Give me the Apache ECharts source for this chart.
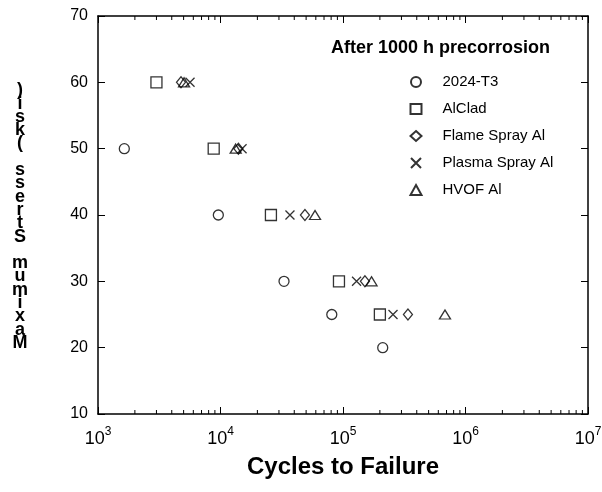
<!DOCTYPE html>
<html>
<head>
<meta charset="utf-8">
<script src="https://cdn.jsdelivr.net/npm/echarts@6/dist/echarts.min.js"></script>
<style>
  html, body { margin: 0; padding: 0; background: #fff; }
  #chart { width: 602px; height: 492px; }
</style>
</head>
<body>
<div id="chart"></div>
<script>
// S-N data after 1000 h precorrosion: [cycles to failure, maximum stress (ksi)]
const seriesNames = ['2024-T3', 'AlClad', 'Flame Spray Al', 'Plasma Spray Al', 'HVOF Al'];
const data2024T3 = [[1640, 50], [9600, 40], [33000, 30], [81000, 25], [211000, 20]];
const dataAlClad = [[3000, 60], [8800, 50], [25800, 40], [92700, 30], [200000, 25]];
const dataFlameSpray = [[4760, 60], [14000, 50], [48900, 40], [151000, 30], [339000, 25]];
const dataPlasmaSpray = [[5640, 60], [15000, 50], [36900, 40], [129000, 30], [256000, 25]];
const dataHVOF = [[5040, 60], [13300, 50], [59100, 40], [171000, 30], [680000, 25]];

const xDecades = [1e3, 1e4, 1e5, 1e6];
const minorMultipliers = [2, 3, 4, 5, 6, 7, 8, 9];
const yTicks = [10, 20, 30, 40, 50, 60, 70];

const chartTitle = 'After 1000 h precorrosion';
const xTitle = 'Cycles to Failure';
const yTitle = 'Maximum Stress (ksi)';

const FONT = 'Arial, "Liberation Sans", sans-serif';

const minorTicks = [];
xDecades.forEach(d => minorMultipliers.forEach(m => minorTicks.push([d * m, yTicks[0]])));

const crossPath = 'path://M0,0L10,10M10,0L0,10';
const symbols = ['circle', 'rect', 'diamond', crossPath, 'triangle'];
const symbolSizes = [10, 11, [9, 11], 9, [11, 9]];
const allData = [data2024T3, dataAlClad, dataFlameSpray, dataPlasmaSpray, dataHVOF];

const markStyle = { color: 'none', borderColor: '#000', borderWidth: 1.3 };

const chart = echarts.init(document.getElementById('chart'), null, { renderer: 'canvas' });

const scatterSeries = seriesNames.map((name, i) => ({
  name,
  type: 'scatter',
  data: allData[i],
  symbol: symbols[i],
  symbolSize: symbolSizes[i],
  itemStyle: markStyle,
  emphasis: { disabled: true },
  animation: false
}));

// minor decade ticks on bottom and top frame edges
const minorTickSeries = {
  type: 'custom',
  silent: true,
  animation: false,
  clip: false,
  data: minorTicks,
  renderItem(params, api) {
    const v = api.value(0);
    const b = api.coord([v, yTicks[0]]);
    const t = api.coord([v, yTicks[yTicks.length - 1]]);
    const st = { stroke: '#000', lineWidth: 1 };
    return {
      type: 'group',
      children: [
        { type: 'line', shape: { x1: b[0], y1: b[1], x2: b[0], y2: b[1] - 4 }, style: st },
        { type: 'line', shape: { x1: t[0], y1: t[1], x2: t[0], y2: t[1] + 4 }, style: st }
      ]
    };
  }
};

// stacked-character vertical axis title
const yTitleChars = yTitle.split('');
const yTitleGraphic = yTitleChars.map((c, i) => ({
  type: 'text',
  x: 20,
  y: 343 - i * 13.3,
  silent: true,
  style: {
    text: c,
    font: 'bold 18px ' + FONT,
    fill: '#000',
    align: 'center',
    verticalAlign: 'middle'
  }
})).filter(g => g.style.text !== ' ');

const axisLineStyle = { color: '#000', width: 1.5 };

const xAxisBase = {
  type: 'log',
  logBase: 10,
  min: 1e3,
  max: 1e7,
  splitLine: { show: false },
  axisLine: { show: true, lineStyle: axisLineStyle },
  axisTick: { show: true, inside: true, length: 7, lineStyle: { color: '#000', width: 1 } },
  minorTick: { show: false }
};

const yAxisBase = {
  type: 'value',
  min: 10,
  max: 70,
  interval: 10,
  splitLine: { show: false },
  axisLine: { show: true, lineStyle: axisLineStyle },
  axisTick: { show: true, inside: true, length: 7, lineStyle: { color: '#000', width: 1 } }
};

chart.setOption({
  backgroundColor: '#fff',
  animation: false,
  title: {
    text: chartTitle,
    left: 326,
    top: 34,
    textStyle: { fontFamily: FONT, fontWeight: 'bold', fontSize: 18, color: '#000' }
  },
  grid: { left: 98, right: 14, top: 16, bottom: 78, containLabel: false, outerBoundsMode: 'none' },
  legend: {
    data: seriesNames,
    orient: 'vertical',
    left: 403,
    top: 69,
    itemWidth: 11,
    itemHeight: 10,
    itemGap: 11,
    selectedMode: false,
    textStyle: { fontFamily: FONT, fontSize: 15, lineHeight: 16, color: '#000', padding: [0, 0, 0, 16] }
  },
  xAxis: [
    Object.assign({}, xAxisBase, {
      position: 'bottom',
      name: xTitle,
      nameLocation: 'middle',
      nameGap: 41,
      nameTextStyle: { fontFamily: FONT, fontWeight: 'bold', fontSize: 24, color: '#000' },
      axisLabel: {
        margin: 12,
        formatter: v => '{b|10}{s|' + Math.round(Math.log10(v)) + '}',
        rich: {
          b: { fontFamily: FONT, fontSize: 18, color: '#000', verticalAlign: 'bottom', lineHeight: 22 },
          s: { fontFamily: FONT, fontSize: 12, color: '#000', verticalAlign: 'top', lineHeight: 22, padding: [0, 0, 8, 0] }
        }
      }
    }),
    Object.assign({}, xAxisBase, {
      position: 'top',
      axisLabel: { show: false }
    })
  ],
  yAxis: [
    Object.assign({}, yAxisBase, {
      position: 'left',
      axisLabel: { margin: 10, fontFamily: FONT, fontSize: 16, color: '#000' }
    }),
    Object.assign({}, yAxisBase, {
      position: 'right',
      axisLabel: { show: false }
    })
  ],
  graphic: yTitleGraphic,
  series: scatterSeries.concat([minorTickSeries])
});
</script>
</body>
</html>
